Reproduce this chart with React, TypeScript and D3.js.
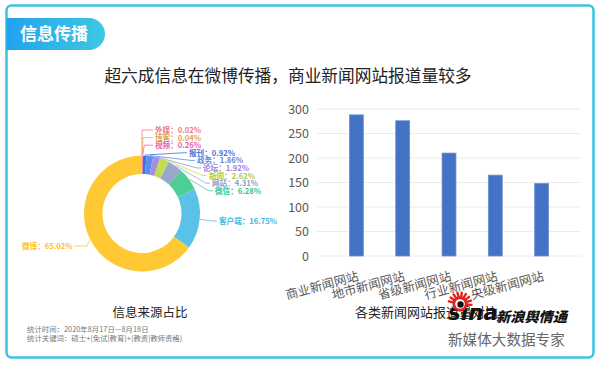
import React from 'react'
import * as d3 from 'd3'

// donut data (信息来源占比)
const sourceNames = ['外媒', '博客', '视频', '报刊', '政务', '论坛', '新闻', '网站', '微信', '客户端', '微博']
const sourceValues = [0.02, 0.04, 0.26, 0.92, 1.86, 1.92, 2.62, 4.31, 6.28, 16.75, 65.02]
const sliceColors = ['#f07c7c', '#e8a850', '#e868b0', '#3f6fe0', '#5b8cf0', '#a190e2', '#c3dc4e', '#96a8cc', '#4ccf96', '#5ac2e6', '#ffc933']
const labelColors = ['#f07c7c', '#e0a450', '#e860b0', '#4a72e0', '#6a84dc', '#9a82e0', '#b4cc3c', '#8a9ec8', '#3cc48c', '#44b8e0', '#ffc020']

// bar data (各类新闻网站报道量对比)
const siteNames = ['商业新闻网站', '地市新闻网站', '省级新闻网站', '行业新闻网站', '央级新闻网站']
const siteValues = [288, 276, 210, 165, 148]
const yTicks = [0, 50, 100, 150, 200, 250, 300]

const font = '"Noto Sans CJK SC", "Noto Sans", sans-serif'

const Donut: React.FC = () => {
  const cx = 142
  const cy = 213.5
  const outer = 58
  const inner = 39.5
  const pie = d3.pie<number>().sort(null).value(d => d)
  const arcs = pie(sourceValues)
  const arc = d3.arc<d3.PieArcDatum<number>>().innerRadius(inner).outerRadius(outer)
  const pt = (a: number, r: number) => [cx + r * Math.sin(a), cy - r * Math.cos(a)]

  // label layout: small slices stacked on the top right
  const labelX = [155, 155, 155, 189, 197, 203, 209, 212, 215, 219, 22]
  const labelY = (i: number) => (i < 9 ? 130 + 7.6 * i : i === 9 ? 221 : 246)

  return (
    <g>
      <g transform={`translate(${cx},${cy})`}>
        {arcs.map((a, i) => (
          <path key={i} d={arc(a) || ''} fill={sliceColors[i]} />
        ))}
      </g>
      {arcs.map((a, i) => {
        const mid = (a.startAngle + a.endAngle) / 2
        const p0 = pt(mid, outer + 0.5)
        const ly = labelY(i)
        const lx = labelX[i]
        let pts: number[][]
        if (i < 3) {
          pts = [p0, [p0[0] + (i * 0.8), ly], [lx - 2, ly]]
        } else if (i === 10) {
          pts = [p0, [p0[0] - 3, ly], [lx + 52, ly]]
        } else {
          pts = [p0, [lx - 6, ly], [lx - 2, ly]]
        }
        const text = `${sourceNames[i]}：${sourceValues[i].toFixed(2)}%`
        return (
          <g key={i}>
            <polyline points={pts.map(p => p.join(',')).join(' ')} fill="none" stroke={sliceColors[i]} strokeWidth={0.8} />
            <text x={lx} y={ly + 3} fontSize={7.6} fontWeight={700} fill={labelColors[i]} fontFamily={font}>{text}</text>
          </g>
        )
      })}
    </g>
  )
}

const Bars: React.FC = () => {
  const x = d3.scaleBand<string>().domain(siteNames).range([317, 581]).padding(0.7)
  const y = d3.scaleLinear().domain([0, 300]).range([256, 109])
  return (
    <g fontFamily={font}>
      {yTicks.map(t => (
        <g key={t}>
          <line x1={317} x2={581} y1={y(t)} y2={y(t)} stroke="#ececec" strokeWidth={1} />
          <text x={309} y={y(t) + 4.5} textAnchor="end" fontSize={12.5} fill="#595959">{t}</text>
        </g>
      ))}
      {siteNames.map((n, i) => (
        <rect key={n} x={x(n)} y={y(siteValues[i])} width={x.bandwidth()} height={y(0) - y(siteValues[i])}
          fill="#4472c4" stroke="#6a8fd4" strokeWidth={0.8} />
      ))}
      {siteNames.map(n => {
        const tx = (x(n) || 0) + x.bandwidth() / 2 + 3
        const ty = 280
        return (
          <text key={n} x={tx} y={ty} transform={`rotate(-15,${tx},${ty})`} textAnchor="end" fontSize={12.5} fill="#595959">{n}</text>
        )
      })}
    </g>
  )
}

const SinaLogo: React.FC = () => {
  const ex = 460
  const ey = 304
  const rays = d3.range(9).map(k => -Math.PI * 0.95 + k * (Math.PI * 0.95 / 8) + Math.PI * 0.025)
  return (
    <g>
      <text x={448} y={320} fontSize={21} fontWeight={900} fontStyle="italic" fill="#111" fontFamily="'DejaVu Sans', sans-serif" textLength={50} lengthAdjust="spacingAndGlyphs">sina</text>
      {rays.map((a, k) => (
        <line key={k} x1={ex + 7 * Math.cos(a)} y1={ey + 7 * Math.sin(a)} x2={ex + 11.5 * Math.cos(a)} y2={ey + 11.5 * Math.sin(a)} stroke="#e2231a" strokeWidth={2.4} strokeLinecap="round" />
      ))}
      <circle cx={ex} cy={ey} r={7.5} fill="#e2231a" />
      <circle cx={ex} cy={ey} r={4.8} fill="#fff" />
      <circle cx={ex + 0.5} cy={ey + 0.5} r={3.2} fill="#111" />
      <text x={496} y={322} fontSize={13.8} fontWeight={900} fontStyle="italic" fill="#111" fontFamily={font} textLength={71} lengthAdjust="spacingAndGlyphs">新浪舆情通</text>
      <text x={448} y={345} fontSize={14.6} fill="#666" fontFamily={font}>新媒体大数据专家</text>
    </g>
  )
}

export default function App() {
  return (
    <svg width={600} height={365} style={{ position: 'absolute', left: 0, top: 0, background: '#fff' }} fontFamily={font}>
      <defs>
        <linearGradient id="tabGrad" x1="0" x2="1" y1="0" y2="0">
          <stop offset="0%" stopColor="#22a2f0" />
          <stop offset="100%" stopColor="#3ec8e2" />
        </linearGradient>
      </defs>
      <rect x={6.5} y={5.5} width={587} height={352} rx={5} fill="#fff" stroke="#3cc2e4" strokeWidth={2.5} />
      <path d="M6.5,18 H89 A16,16 0 0 1 89,50 H6.5 Z" fill="url(#tabGrad)" />
      <text x={20} y={40} fontSize={17} fontWeight={700} fill="#fff">信息传播</text>
      <text x={288} y={82} textAnchor="middle" fontSize={16.7} fill="#222">超六成信息在微博传播，商业新闻网站报道量较多</text>

      <Donut />
      <text x={150} y={317} textAnchor="middle" fontSize={12.5} fill="#222">信息来源占比</text>
      <text x={27} y={332} fontSize={7.4} fill="#777">统计时间：2020年8月17日—8月18日</text>
      <text x={27} y={341} fontSize={7.4} fill="#777">统计关键词：硕士+(免试|教育)+(教资|教师资格)</text>

      <Bars />
      <text x={355} y={317} fontSize={13} fill="#222">各类新闻网站报道量对比</text>
      <SinaLogo />
    </svg>
  )
}
